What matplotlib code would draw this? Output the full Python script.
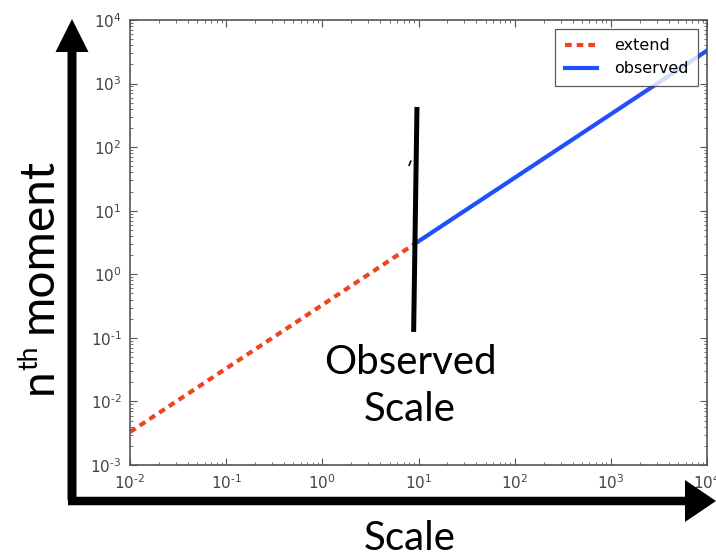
import numpy as np
import matplotlib
matplotlib.use("Agg")
import matplotlib.pyplot as plt
from matplotlib.patches import FancyArrow
from matplotlib.ticker import FuncFormatter

# data
extend_x = [0.01, 10]
extend_y = [0.0033, 3.3]
observed_x = [10, 10000]
observed_y = [3.3, 3300]

# hand-drawn "observed scale" marker (data coords)
marker_x = [9.64, 8.9]
marker_y = [428, 0.124]

W, H = 716, 558
fig = plt.figure(figsize=(W / 100, H / 100), dpi=100)
ax = fig.add_axes([130 / W, 1 - 465 / H, 577 / W, 445 / H])

ax.plot(extend_x, extend_y, color="#ee4422", lw=3, dashes=(1.6, 1.2),
        dash_capstyle="butt", label="extend")
ax.plot(observed_x, observed_y, color="#1f4fff", lw=3, label="observed")
ax.plot(marker_x, marker_y, color="black", lw=3.6, clip_on=False,
        solid_capstyle="butt")
ax.plot([8.0, 8.3], [52, 60], color="black", lw=1.2)

ax.set_xscale("log")
ax.set_yscale("log")
ax.set_xlim(1e-2, 1e4)
ax.set_ylim(1e-3, 1e4)


def pow10(v, pos):
    e = int(round(np.log10(v)))
    if e < 0:
        return r"$10^{\text{-}%d}$" % (-e)
    return r"$10^{%d}$" % e


ax.xaxis.set_major_formatter(FuncFormatter(pow10))
ax.yaxis.set_major_formatter(FuncFormatter(pow10))

for s in ax.spines.values():
    s.set_color("#555555")
    s.set_linewidth(1.2)
ax.tick_params(which="both", direction="in", top=True, right=True,
               colors="#555555", labelcolor="#444444", labelsize=11)
ax.tick_params(which="major", length=5, width=0.8, pad=6)
ax.tick_params(which="minor", length=2.5, width=0.6)

leg = ax.legend(loc="upper right", fontsize=11.5, handlelength=2.0,
                borderpad=0.6, labelspacing=0.5, handletextpad=1.1,
                fancybox=False, bbox_to_anchor=(0.999, 0.998))
leg.get_frame().set_edgecolor("#333333")
leg.get_frame().set_linewidth(0.9)

# overlay for the big arrows and slide text, in pixel units
ov = fig.add_axes([0, 0, 1, 1], zorder=5)
ov.set_xlim(0, W)
ov.set_ylim(H, 0)
ov.axis("off")
ov.patch.set_alpha(0)

ov.add_patch(FancyArrow(72, 500, 0, -481, width=9, head_width=33,
                        head_length=33, length_includes_head=True,
                        color="black", lw=0))
ov.add_patch(FancyArrow(68, 501, 648, 0, width=8.5, head_width=42,
                        head_length=31, length_includes_head=True,
                        color="black", lw=0))

fam = ["Lato", "DejaVu Sans"]
ov.text(410, 550, "Scale", family=fam, fontsize=29, ha="center",
        va="baseline")
ov.text(410, 374, "Observed", family=fam, fontsize=29, ha="center",
        va="baseline")
ov.text(410, 421, "Scale", family=fam, fontsize=29, ha="center",
        va="baseline")

# n^th moment, rotated, built from three pieces
ov.text(52, 394, "n", family=fam, fontsize=33, rotation=90,
        rotation_mode="anchor", ha="left", va="baseline")
ov.text(37, 370, "th", family=fam, fontsize=19, rotation=90,
        rotation_mode="anchor", ha="left", va="baseline")
ov.text(52, 333, "moment", family=fam, fontsize=34.5, rotation=90,
        rotation_mode="anchor", ha="left", va="baseline")

fig.savefig("out.png", dpi=100)
